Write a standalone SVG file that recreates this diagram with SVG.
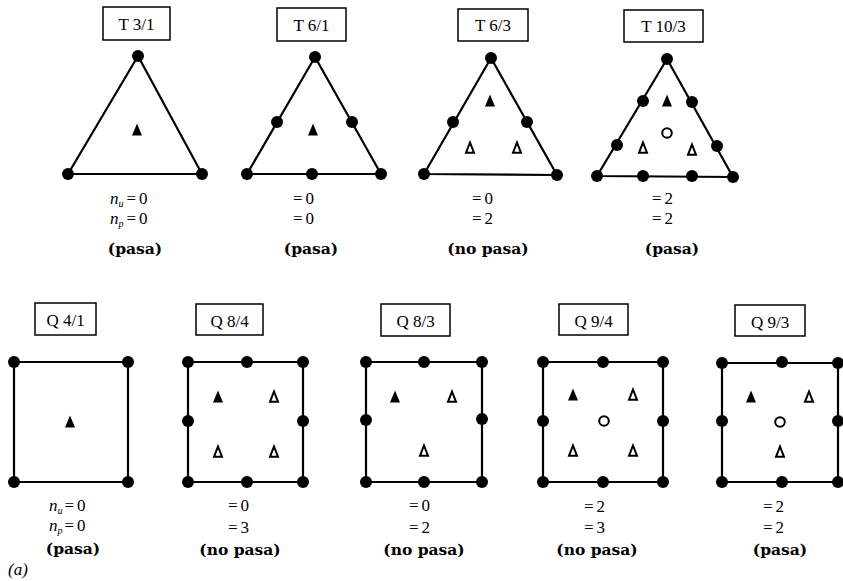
<svg xmlns="http://www.w3.org/2000/svg" xmlns:xlink="http://www.w3.org/1999/xlink" width="843" height="581" viewBox="0 0 843 581">
<style>
.bg{fill:#fff}
.edge{fill:none;stroke:#000;stroke-width:2.2;stroke-linejoin:round}
.lbl{fill:#fff;stroke:#000;stroke-width:1.5}
.lt{font-family:"Liberation Serif","Times New Roman",serif;font-size:17px;text-anchor:middle;fill:#000}
.eq{font-family:"Liberation Serif","Times New Roman",serif;font-size:17px;fill:#000;letter-spacing:3px}
.it{font-style:italic;letter-spacing:0}
.sub{font-size:10px;font-style:italic;letter-spacing:0}
.vd{font-family:"DejaVu Serif","Liberation Serif",serif;font-weight:bold;font-size:15.5px;text-anchor:middle;fill:#000}
</style>
<defs>
<polygon id="ft" points="0,-6.5 5,5.5 -5,5.5" fill="#000"/>
<polygon id="ot" points="0,-5.5 4,4.8 -4,4.8" fill="#fff" stroke="#000" stroke-width="2"/>
<circle id="oc" r="4.8" fill="#fff" stroke="#000" stroke-width="2"/>
<circle id="d" r="6" fill="#000"/>
</defs>
<rect class="bg" width="843" height="581"/>

<g id="T31">
<rect class="lbl" x="103" y="7" width="67" height="33"/>
<text class="lt" x="136.5" y="30">T 3/1</text>
<polygon class="edge" points="138,56 68,174 202,174"/>
<use xlink:href="#d" x="138" y="56"/><use xlink:href="#d" x="68" y="174"/><use xlink:href="#d" x="202" y="174"/>
<use xlink:href="#ft" x="137" y="130"/>
<text class="eq" x="110" y="204"><tspan class="it">n</tspan><tspan class="sub" dy="3">u</tspan><tspan dx="3" dy="-3">=0</tspan></text>
<text class="eq" x="110" y="224"><tspan class="it">n</tspan><tspan class="sub" dy="3">p</tspan><tspan dx="3" dy="-3">=0</tspan></text>
<text class="vd" x="135" y="254">(pasa)</text>
</g>

<g id="T61">
<rect class="lbl" x="277" y="8" width="69" height="33"/>
<text class="lt" x="311.5" y="31">T 6/1</text>
<polygon class="edge" points="315,57 247,174 381,174"/>
<use xlink:href="#d" x="315" y="57"/><use xlink:href="#d" x="247" y="174"/><use xlink:href="#d" x="381" y="174"/>
<use xlink:href="#d" x="277" y="122"/><use xlink:href="#d" x="352" y="122"/><use xlink:href="#d" x="312" y="174"/>
<use xlink:href="#ft" x="313" y="130"/>
<text class="eq" x="293" y="204">=0</text>
<text class="eq" x="293" y="224">=0</text>
<text class="vd" x="311" y="254">(pasa)</text>
</g>

<g id="T63">
<rect class="lbl" x="458" y="9" width="70" height="32"/>
<text class="lt" x="493" y="31">T 6/3</text>
<polygon class="edge" points="491,58 424,174 557,175"/>
<use xlink:href="#d" x="491" y="58"/><use xlink:href="#d" x="424" y="174"/><use xlink:href="#d" x="557" y="175"/>
<use xlink:href="#d" x="453" y="122"/><use xlink:href="#d" x="527" y="122"/>
<use xlink:href="#ft" x="490" y="101"/>
<use xlink:href="#ot" x="470" y="148"/><use xlink:href="#ot" x="517" y="148"/>
<text class="eq" x="472" y="204">=0</text>
<text class="eq" x="472" y="224">=2</text>
<text class="vd" x="488" y="254">(no pasa)</text>
</g>

<g id="T103">
<rect class="lbl" x="624" y="10" width="79" height="32"/>
<text class="lt" x="663.5" y="32">T 10/3</text>
<polygon class="edge" points="667,59 597,176 733,177"/>
<use xlink:href="#d" x="667" y="59"/><use xlink:href="#d" x="597" y="176"/><use xlink:href="#d" x="733" y="177"/>
<use xlink:href="#d" x="643" y="101"/><use xlink:href="#d" x="617" y="145"/>
<use xlink:href="#d" x="692" y="102"/><use xlink:href="#d" x="717" y="146"/>
<use xlink:href="#d" x="643" y="176"/><use xlink:href="#d" x="692" y="176"/>
<use xlink:href="#ft" x="667" y="101"/>
<use xlink:href="#oc" x="667" y="133"/>
<use xlink:href="#ot" x="643" y="148"/><use xlink:href="#ot" x="692" y="150"/>
<text class="eq" x="652" y="204">=2</text>
<text class="eq" x="652" y="224">=2</text>
<text class="vd" x="672" y="254">(pasa)</text>
</g>

<g id="Q41">
<rect class="lbl" x="35" y="303" width="61" height="32"/>
<text class="lt" x="65.5" y="326">Q 4/1</text>
<rect class="edge" x="14" y="362" width="114" height="120"/>
<use xlink:href="#d" x="14" y="362"/><use xlink:href="#d" x="128" y="362"/><use xlink:href="#d" x="14" y="482"/><use xlink:href="#d" x="128" y="482"/>
<use xlink:href="#ft" x="70" y="422"/>
<text class="eq" x="49" y="511"><tspan class="it">n</tspan><tspan class="sub" dy="3">u</tspan><tspan dx="2" dy="-3">=0</tspan></text>
<text class="eq" x="49" y="531"><tspan class="it">n</tspan><tspan class="sub" dy="3">p</tspan><tspan dx="2" dy="-3">=0</tspan></text>
<text class="vd" x="73" y="554">(pasa)</text>
<text class="eq it" x="8" y="575">(a)</text>
</g>

<g id="Q84">
<rect class="lbl" x="196" y="304" width="67" height="31"/>
<text class="lt" x="229.5" y="327">Q 8/4</text>
<rect class="edge" x="188" y="362" width="115" height="120"/>
<use xlink:href="#d" x="188" y="362"/><use xlink:href="#d" x="303" y="362"/><use xlink:href="#d" x="188" y="482"/><use xlink:href="#d" x="303" y="482"/>
<use xlink:href="#d" x="247" y="362"/><use xlink:href="#d" x="247" y="482"/><use xlink:href="#d" x="188" y="421"/><use xlink:href="#d" x="303" y="421"/>
<use xlink:href="#ft" x="218" y="397"/>
<use xlink:href="#ot" x="274" y="397"/><use xlink:href="#ot" x="218" y="452"/><use xlink:href="#ot" x="274" y="452"/>
<text class="eq" x="228" y="511">=0</text>
<text class="eq" x="228" y="533">=3</text>
<text class="vd" x="240" y="555">(no pasa)</text>
</g>

<g id="Q83">
<rect class="lbl" x="381" y="304" width="69" height="32"/>
<text class="lt" x="415.5" y="327">Q 8/3</text>
<rect class="edge" x="366" y="362" width="116" height="120"/>
<use xlink:href="#d" x="366" y="362"/><use xlink:href="#d" x="482" y="362"/><use xlink:href="#d" x="366" y="482"/><use xlink:href="#d" x="482" y="482"/>
<use xlink:href="#d" x="424" y="362"/><use xlink:href="#d" x="424" y="482"/><use xlink:href="#d" x="366" y="420"/><use xlink:href="#d" x="482" y="419"/>
<use xlink:href="#ft" x="395" y="397"/>
<use xlink:href="#ot" x="452" y="397"/><use xlink:href="#ot" x="424" y="451"/>
<text class="eq" x="409" y="511">=0</text>
<text class="eq" x="409" y="533">=2</text>
<text class="vd" x="424" y="555">(no pasa)</text>
</g>

<g id="Q94">
<rect class="lbl" x="559" y="304" width="69" height="31"/>
<text class="lt" x="593.5" y="327">Q 9/4</text>
<rect class="edge" x="543" y="362" width="120" height="120"/>
<use xlink:href="#d" x="543" y="362"/><use xlink:href="#d" x="663" y="362"/><use xlink:href="#d" x="543" y="482"/><use xlink:href="#d" x="663" y="482"/>
<use xlink:href="#d" x="603" y="362"/><use xlink:href="#d" x="603" y="482"/><use xlink:href="#d" x="543" y="421"/><use xlink:href="#d" x="663" y="421"/>
<use xlink:href="#ft" x="573" y="395"/>
<use xlink:href="#ot" x="633" y="395"/>
<use xlink:href="#oc" x="604" y="421"/>
<use xlink:href="#ot" x="573" y="451"/><use xlink:href="#ot" x="633" y="451"/>
<text class="eq" x="584" y="512">=2</text>
<text class="eq" x="584" y="533">=3</text>
<text class="vd" x="597" y="555">(no pasa)</text>
</g>

<g id="Q93">
<rect class="lbl" x="735" y="305" width="70" height="31"/>
<text class="lt" x="770" y="328">Q 9/3</text>
<rect class="edge" x="722" y="363" width="116" height="119"/>
<use xlink:href="#d" x="722" y="363"/><use xlink:href="#d" x="838" y="363"/><use xlink:href="#d" x="722" y="482"/><use xlink:href="#d" x="838" y="482"/>
<use xlink:href="#d" x="782" y="362"/><use xlink:href="#d" x="782" y="482"/><use xlink:href="#d" x="722" y="421"/><use xlink:href="#d" x="838" y="421"/>
<use xlink:href="#ft" x="751" y="397"/>
<use xlink:href="#ot" x="809" y="397"/>
<use xlink:href="#oc" x="780" y="422"/>
<use xlink:href="#ot" x="780" y="452"/>
<text class="eq" x="763" y="512">=2</text>
<text class="eq" x="763" y="533">=2</text>
<text class="vd" x="780" y="555">(pasa)</text>
</g>
</svg>
